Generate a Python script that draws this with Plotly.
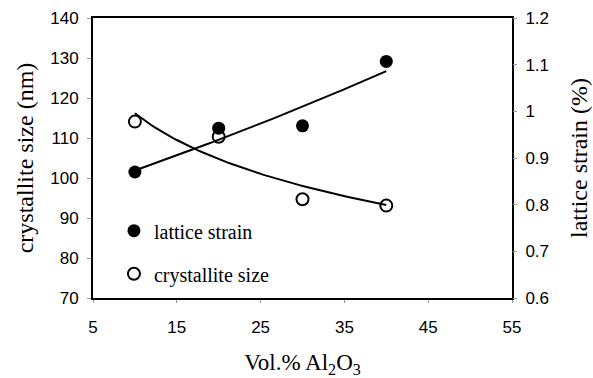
import numpy as np
import plotly.graph_objects as go

# Al2O3 content (vol.%)
vol_pct = [10, 20, 30, 40]
# crystallite size, nm (left axis)
crystallite_size = [114.1, 110.3, 94.7, 93.1]
# lattice strain, % (right axis)
lattice_strain = [0.870, 0.964, 0.969, 1.107]

x_ticks = [5, 15, 25, 35, 45, 55]

# trend lines: logarithmic fit for size, exponential fit for strain
xs = np.linspace(min(vol_pct), max(vol_pct), 80)
b_log, a_log = np.polyfit(np.log(vol_pct), crystallite_size, 1)
size_fit = a_log + b_log * np.log(xs)
b_exp, a_exp = np.polyfit(vol_pct, np.log(lattice_strain), 1)
strain_fit = np.exp(a_exp + b_exp * xs)

serif = "Liberation Serif, Times New Roman, serif"
sans = "Liberation Sans, Arial, sans-serif"
tick_font = dict(family=sans, size=17, color="black")

fig = go.Figure()
fig.add_trace(go.Scatter(x=xs, y=size_fit, mode="lines", line=dict(color="black", width=2),
                         showlegend=False, hoverinfo="skip"))
fig.add_trace(go.Scatter(x=xs, y=strain_fit, mode="lines", line=dict(color="black", width=2),
                         showlegend=False, hoverinfo="skip", yaxis="y2"))
fig.add_trace(go.Scatter(x=vol_pct, y=lattice_strain, mode="markers", name="lattice strain",
                         legendgroup="a", yaxis="y2",
                         marker=dict(symbol="circle", size=13, color="black")))
fig.add_trace(go.Scatter(x=vol_pct, y=crystallite_size, mode="markers", name="crystallite size",
                         legendgroup="b",
                         marker=dict(symbol="circle-open", size=12, color="black",
                                     line=dict(width=2, color="black"))))

fig.update_layout(
    width=593, height=378,
    margin=dict(l=93, r=81, t=18, b=80),
    plot_bgcolor="white", paper_bgcolor="white",
    showlegend=True,
    legend=dict(x=0.05, y=0.31, xanchor="left", yanchor="top",
                bgcolor="rgba(0,0,0,0)", font=dict(family=serif, size=20, color="black"),
                traceorder="grouped", tracegroupgap=14, itemwidth=30),
    xaxis=dict(range=[5, 55], tickvals=x_ticks, ticks="outside", ticklen=3, tickcolor="#999",
               ticklabelstandoff=10, automargin=False,
               showline=True, linecolor="black", linewidth=2, mirror=True, showgrid=False,
               zeroline=False, tickfont=tick_font,
               title=dict(text="Vol.% Al<sub>2</sub>O<sub>3</sub>", standoff=18,
                          font=dict(family=serif, size=23, color="black"))),
    yaxis=dict(range=[70, 140], dtick=10, ticks="outside", ticklen=4, tickcolor="#999",
               ticklabelstandoff=5, automargin=False,
               showline=True, linecolor="black", linewidth=2, mirror=True, showgrid=False,
               zeroline=False, tickfont=tick_font,
               title=dict(text="crystallite size (nm)", standoff=10,
                          font=dict(family=serif, size=24, color="black"))),
    yaxis2=dict(range=[0.6, 1.2], dtick=0.1, overlaying="y", side="right", ticks="outside",
                ticklen=4, tickcolor="#999", ticklabelstandoff=5, automargin=False,
                showline=False, showgrid=False, zeroline=False, tickfont=tick_font,
                title=dict(text="lattice strain (%)", standoff=22,
                           font=dict(family=serif, size=24, color="black"))),
)

fig.write_html("out.html")
